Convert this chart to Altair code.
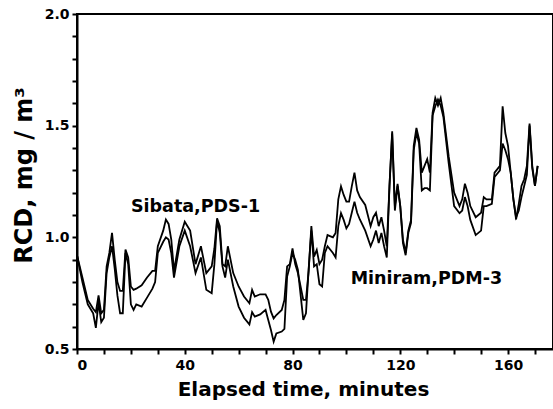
import altair as alt
import pandas as pd

minutes = [0, 2, 4, 6, 7, 8, 9, 10, 11, 12, 13, 14, 15, 16, 17, 18, 19, 20, 21, 22,
           24, 26, 28, 29, 30, 32, 33, 34, 35, 36, 38, 40, 42, 44, 46, 48, 50, 51, 52, 53,
           54, 55, 56, 58, 60, 62, 64, 65, 66, 68, 70, 71, 72, 73, 74, 76, 77, 78, 79, 80,
           81, 82, 84, 85, 86, 87, 88, 89, 90, 91, 92, 93, 95, 96, 97, 98, 99, 100, 101, 102,
           103, 104, 105, 107, 109, 110, 111, 112, 113, 114, 115, 116, 117, 118, 119, 120, 121, 122, 123, 124,
           125, 126, 127, 128, 129, 130, 131, 132, 133, 134, 135, 136, 138, 140, 142, 143, 144, 145, 146, 148,
           150, 151, 152, 154, 155, 157, 158, 159, 160, 161, 162, 163, 164, 165, 166, 167, 168, 169, 170, 171]

sibata = [0.92, 0.82, 0.72, 0.68, 0.665, 0.74, 0.66, 0.675, 0.87, 0.93, 1.02, 0.90, 0.80, 0.76, 0.76, 0.945, 0.91, 0.78, 0.765, 0.77,
          0.785, 0.82, 0.85, 0.85, 0.96, 1.03, 1.08, 1.06, 0.99, 0.85, 0.99, 1.07, 1.03, 0.88, 0.96, 0.84, 0.87, 0.95, 1.085, 1.05,
          0.88, 0.87, 0.96, 0.84, 0.78, 0.735, 0.705, 0.765, 0.735, 0.745, 0.745, 0.72, 0.667, 0.637, 0.652, 0.675, 0.72, 0.87, 0.88, 0.95,
          0.88, 0.84, 0.72, 0.72, 0.85, 1.05, 0.914, 0.944, 0.88, 0.90, 0.96, 1.01, 1.00, 1.02, 1.17, 1.228, 1.19, 1.16, 1.16, 1.228,
          1.29, 1.21, 1.18, 1.145, 1.05, 1.09, 1.11, 1.05, 1.09, 1.03, 0.96, 1.23, 1.475, 1.14, 1.24, 1.14, 0.99, 0.93, 1.03, 1.078,
          1.41, 1.49, 1.437, 1.29, 1.32, 1.35, 1.29, 1.557, 1.624, 1.59, 1.624, 1.557, 1.36, 1.20, 1.14, 1.17, 1.24, 1.20, 1.14, 1.09,
          1.11, 1.18, 1.17, 1.17, 1.29, 1.32, 1.587, 1.467, 1.41, 1.29, 1.17, 1.08, 1.15, 1.23, 1.26, 1.32, 1.51, 1.32, 1.23, 1.32]

miniram = [0.92, 0.80, 0.70, 0.66, 0.595, 0.71, 0.62, 0.64, 0.84, 0.91, 0.96, 0.86, 0.74, 0.66, 0.66, 0.93, 0.88, 0.70, 0.675, 0.70,
           0.69, 0.73, 0.77, 0.80, 0.93, 0.98, 1.00, 0.99, 0.93, 0.82, 0.96, 1.03, 0.96, 0.84, 0.91, 0.765, 0.75, 0.88, 1.075, 1.02,
           0.87, 0.82, 0.90, 0.78, 0.69, 0.64, 0.61, 0.665, 0.645, 0.655, 0.675, 0.63, 0.585, 0.533, 0.57, 0.578, 0.59, 0.824, 0.87, 0.93,
           0.90, 0.855, 0.63, 0.66, 0.86, 1.03, 0.87, 0.88, 0.79, 0.78, 0.93, 0.96, 0.93, 0.91, 1.05, 1.108, 1.078, 1.04, 1.06, 1.11,
           1.16, 1.11, 1.08, 1.03, 0.96, 0.99, 1.03, 0.974, 1.02, 0.96, 0.91, 1.23, 1.465, 1.12, 1.23, 1.14, 0.974, 0.92, 1.02, 1.065,
           1.39, 1.467, 1.42, 1.21, 1.22, 1.22, 1.21, 1.545, 1.587, 1.617, 1.59, 1.54, 1.33, 1.14, 1.108, 1.12, 1.18, 1.14, 1.078, 1.01,
           1.03, 1.14, 1.14, 1.15, 1.27, 1.30, 1.42, 1.39, 1.35, 1.29, 1.17, 1.09, 1.12, 1.18, 1.23, 1.28, 1.50, 1.31, 1.23, 1.32]

labels = ["Sibata,PDS-1", "Miniram,PDM-3"]
label_x = [44, 129.7]
label_y = [1.137, 0.814]

x_ticks = list(range(0, 180, 10))
y_ticks = [0.5, 0.6, 0.7, 0.8, 0.9, 1.0, 1.1, 1.2, 1.3, 1.4, 1.5, 1.6, 1.7, 1.8, 1.9, 2.0]
y_labels = ["0.5", "1.0", "1.5", "2.0"]

df = pd.concat([
    pd.DataFrame({"t": minutes, "v": sibata, "s": "Sibata"}),
    pd.DataFrame({"t": minutes, "v": miniram, "s": "Miniram"}),
])
lab = pd.DataFrame({"text": labels, "t": label_x, "v": label_y})

FONT = "DejaVu Sans"
ylab_list = "[" + ",".join("'%s'" % s for s in y_labels) + "]"

x_axis = alt.Axis(values=x_ticks, labelExpr="datum.value % 40 == 0 ? datum.label : ''",
                  labelOverlap=False,
                  title="Elapsed time, minutes", grid=False, tickSize=5, tickWidth=2,
                  domainWidth=2, domainColor="black", tickColor="black",
                  labelFont=FONT, labelFontSize=14, labelFontWeight="bold", labelColor="black", labelPadding=4,
                  titleFont=FONT, titleFontSize=20, titleFontWeight="bold", titleColor="black",
                  titlePadding=7, titleX=226)
y_axis = alt.Axis(values=y_ticks,
                  labelExpr="indexof(" + ylab_list + ", format(datum.value, '.1f')) >= 0 ? format(datum.value, '.1f') : ''",
                  labelOverlap=False,
                  title="RCD, mg / m³", grid=False, tickSize=5, tickWidth=2,
                  domainWidth=2, domainColor="black", tickColor="black",
                  labelFont=FONT, labelFontSize=14, labelFontWeight="bold", labelColor="black", labelPadding=3,
                  titleFont=FONT, titleFontSize=24, titleFontWeight="bold", titleColor="black",
                  titlePadding=8, titleY=161)

x_scale = alt.Scale(domain=[0, 176.7], nice=False, zero=False)
y_scale = alt.Scale(domain=[0.5, 2.0], nice=False, zero=False)

lines = alt.Chart(df).mark_line(color="black", strokeWidth=1.8, clip=True).encode(
    x=alt.X("t:Q", scale=x_scale, axis=x_axis),
    y=alt.Y("v:Q", scale=y_scale, axis=y_axis),
    detail="s:N", order="t:Q")

text = alt.Chart(lab).mark_text(font=FONT, fontSize=17.5, fontWeight="bold", color="black").encode(
    x=alt.X("t:Q", scale=x_scale, axis=x_axis),
    y=alt.Y("v:Q", scale=y_scale, axis=y_axis),
    text="text:N")

chart = (lines + text).properties(
    width=476, height=335,
    padding={"left": 77, "top": 14, "right": 0, "bottom": 60},
    autosize=alt.AutoSizeParams(type="none"),
    background="white",
).configure_view(stroke="black", strokeWidth=2)

chart.save("out.html", embed_options={"renderer": "svg", "actions": False})
